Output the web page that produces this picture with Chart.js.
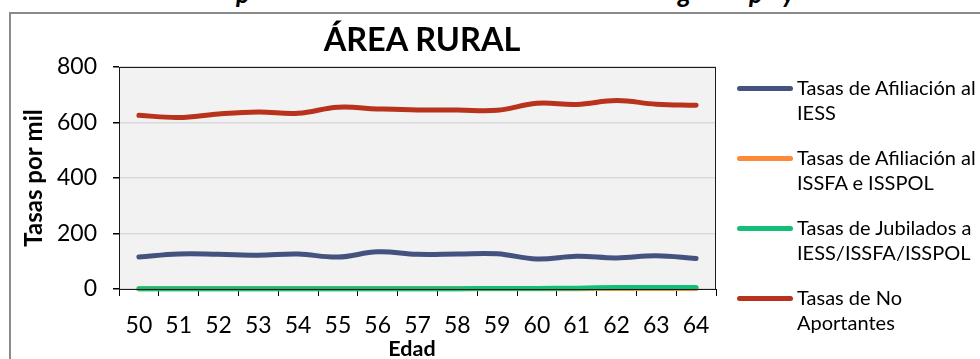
<!DOCTYPE html>
<html>
<head>
<meta charset="utf-8">
<script src="https://cdn.jsdelivr.net/npm/chart.js@4.4.0/dist/chart.umd.min.js"></script>
<style>
  html, body { margin: 0; padding: 0; background: #fff; overflow: hidden; }
  body { width: 980px; height: 359px; position: relative; font-family: Lato, sans-serif; color: #000; }
  #frame { position: absolute; left: 9px; top: 12px; width: 1000px; height: 400px; border: 2px solid #8a8a8a; box-sizing: border-box; }
  #chart { position: absolute; left: 0; top: 0; }
  .frag { position: absolute; top: -20px; font: italic bold 26px/26px Lato, sans-serif; }
  #title { position: absolute; left: 272px; width: 300px; top: 22px; text-align: center; font: bold 32.5px/33px Lato, sans-serif; }
  #xtitle { position: absolute; left: 362px; width: 100px; top: 338px; text-align: center; font: bold 21.5px/21px Lato, sans-serif; }
  .key { position: absolute; left: 737px; width: 56px; height: 5px; border-radius: 3px; }
  .lbl { position: absolute; left: 797px; font: 20px/25px Lato, sans-serif; white-space: nowrap; }
</style>
</head>
<body>
<div id="frame"></div>
<span class="frag" style="left:236px">p</span>
<span class="frag" style="left:678px">g</span>
<span class="frag" style="left:749px">p</span>
<span class="frag" style="left:782px">y</span>
<canvas id="chart" width="980" height="359"></canvas>
<div id="title">ÁREA RURAL</div>
<div id="xtitle">Edad</div>
<div id="legend"></div>
<script>
// ages on the x axis
const edades = ['50','51','52','53','54','55','56','57','58','59','60','61','62','63','64'];

// rates per thousand
const afiliacionIess   = [115,126,125,122,126,115,134,125,126,127,108,118,112,120,110];
const afiliacionIssfa  = [1,1,1,1,1,1,1,1,1,1,1,1,2,2,2];
const jubilados        = [1,1,1,1,1,1,1,1,1,2,2,3,5,5,5];
const noAportantes     = [626,618,631,638,633,655,649,645,645,644,669,665,679,666,662];

const seriesNames = [
  ['Tasas de Afiliación al', 'IESS'],
  ['Tasas de Afiliación al', 'ISSFA e ISSPOL'],
  ['Tasas de Jubilados a', 'IESS/ISSFA/ISSPOL'],
  ['Tasas de No', 'Aportantes']
];
const seriesColors = ['#44527f', '#fd8a36', '#12bf78', '#b8321c'];
const yTicks = [0, 200, 400, 600, 800];

// legend drawn as html, wrapped like the original
const legendEl = document.getElementById('legend');
seriesNames.forEach((name, i) => {
  const cy = 88 + i * 70;
  const k = document.createElement('div');
  k.className = 'key';
  k.style.top = (cy - 2.5) + 'px';
  k.style.background = seriesColors[i];
  legendEl.appendChild(k);
  const t = document.createElement('div');
  t.className = 'lbl';
  t.style.top = (cy - 13) + 'px';
  t.innerHTML = name.join('<br>');
  legendEl.appendChild(t);
});

// grey plot area + black frame round it
const plotArea = {
  id: 'plotArea',
  beforeDraw(chart) {
    const { ctx, chartArea: a } = chart;
    ctx.save();
    ctx.fillStyle = '#f2f2f2';
    ctx.fillRect(a.left, a.top, a.right - a.left, a.bottom - a.top);
    ctx.restore();
  },
  afterDraw(chart) {
    const { ctx, chartArea: a } = chart;
    ctx.save();
    ctx.strokeStyle = '#1a1a1a';
    ctx.lineWidth = 1;
    ctx.strokeRect(a.left + 0.5, a.top + 0.5, a.right - a.left - 1, a.bottom - a.top);
    ctx.restore();
  }
};

const mk = (data, i, order) => ({
  label: seriesNames[i].join(' '),
  data,
  borderColor: seriesColors[i],
  backgroundColor: seriesColors[i],
  borderWidth: 5,
  borderCapStyle: 'round',
  pointRadius: 0,
  tension: 0.4,
  clip: 6,
  order
});

new Chart(document.getElementById('chart'), {
  type: 'line',
  data: {
    labels: edades,
    datasets: [
      mk(afiliacionIess, 0, 1),
      mk(afiliacionIssfa, 1, 1),
      mk(jubilados, 2, 0),
      mk(noAportantes, 3, 1)
    ]
  },
  options: {
    responsive: false,
    animation: false,
    events: [],
    layout: { padding: { left: 0, top: 67, right: 264, bottom: 0 } },
    plugins: { legend: { display: false }, title: { display: false }, tooltip: { enabled: false } },
    scales: {
      x: {
        offset: true,
        grid: { offset: true, drawOnChartArea: false, drawTicks: true, tickLength: 7, tickColor: '#000' },
        border: { color: '#000', width: 1 },
        ticks: { color: '#000', padding: 16, maxRotation: 0, autoSkip: false, font: { family: 'Lato', size: 23 } },
        afterFit: (s) => { s.height = 70; }
      },
      y: {
        min: 0, max: 800,
        afterBuildTicks: (s) => { s.ticks = yTicks.map(v => ({ value: v })); },
        grid: { color: '#d9d9d9', lineWidth: 1.5, tickLength: 6, tickColor: '#000' },
        border: { color: '#000', width: 1 },
        ticks: { color: '#000', padding: 16, font: { family: 'Lato', size: 23 } },
        title: { display: true, text: 'Tasas por mil', color: '#000', padding: { top: 20, bottom: 0 }, font: { family: 'Lato', size: 24, weight: 'bold' } },
        afterFit: (s) => { s.width = 119; }
      }
    }
  },
  plugins: [plotArea]
});
</script>
</body>
</html>
